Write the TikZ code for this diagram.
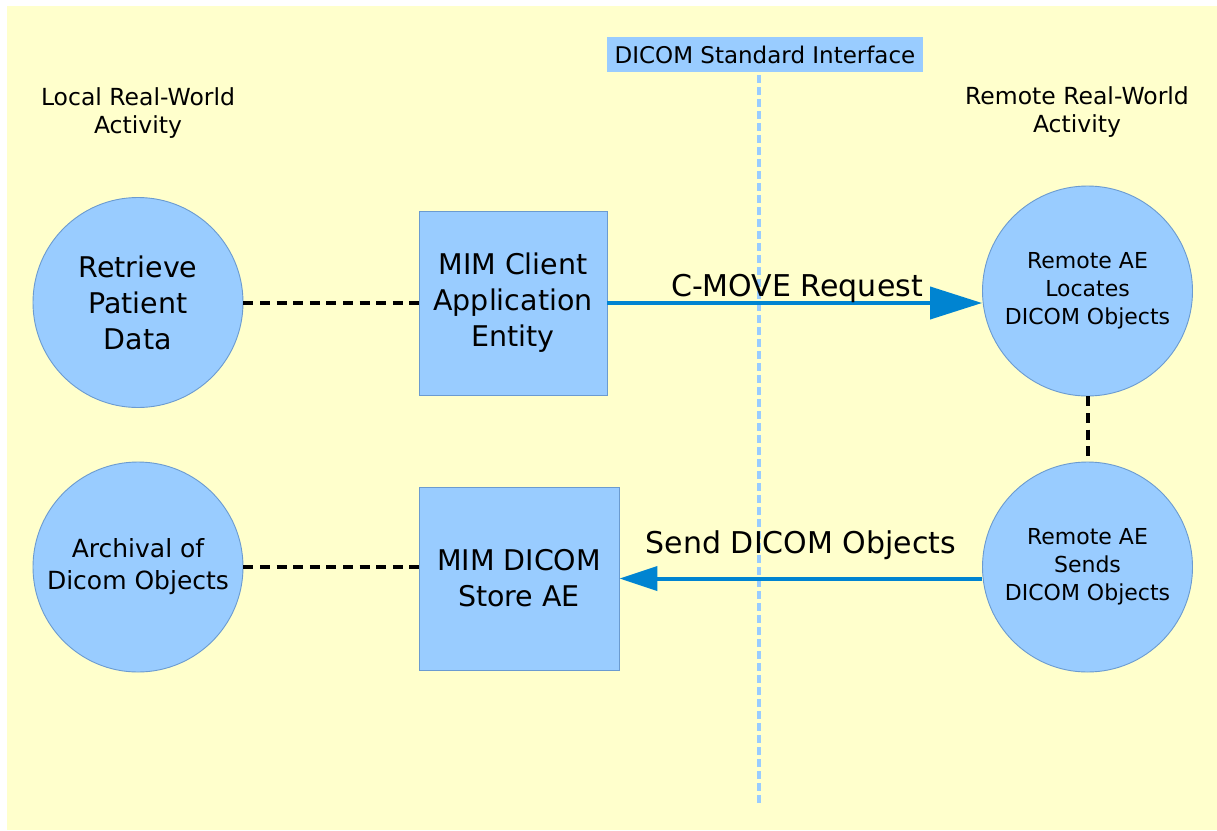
\documentclass[tikz,border=0pt]{standalone}
\usepackage{fontspec}
\setmainfont{DejaVu Sans}
\usetikzlibrary{arrows.meta}
\definecolor{bgyellow}{HTML}{FFFFCC}
\definecolor{shapefill}{HTML}{99CCFF}
\definecolor{shapeline}{HTML}{6B9BD0}
\definecolor{arrowblue}{HTML}{0084D1}
\begin{document}
\begin{tikzpicture}[x=1pt,y=-1pt,
  bigtext/.style={font=\fontsize{28.5}{36}\selectfont},
  smalltext/.style={font=\fontsize{22}{28}\selectfont},
  labeltext/.style={font=\fontsize{23.5}{28}\selectfont},
  msgtext/.style={font=\fontsize{30}{36}\selectfont, anchor=base, inner sep=0pt},
  activity/.style={circle, draw=shapeline, line width=0.9pt, fill=shapefill, minimum size=210pt, inner sep=0pt, align=center},
  aebox/.style={rectangle, draw=shapeline, line width=0.9pt, fill=shapefill, inner sep=0pt, align=center},
  assoc/.style={line width=4pt, black, dash pattern=on 10pt off 6.6pt},
  msg/.style={line width=4pt, arrowblue},
  ifaceline/.style={shapefill, line width=4.5pt, dash pattern=on 8pt off 4pt}]
\useasboundingbox (0,0) rectangle (1217,830);
\fill[bgyellow] (7,6) rectangle (1217,830);

% interface
\node[fill=shapefill, minimum width=316pt, minimum height=35pt, inner sep=0pt, font=\fontsize{23}{28}\selectfont] (iface) at (765,54.5) {DICOM Standard Interface};
\coordinate (ifaceend) at (759,803);
\draw[ifaceline] ([xshift=-6pt,yshift=-3pt]iface.south) -- (ifaceend);

% side labels
\node[labeltext, align=center] (local) at (138,113) {Local Real-World\\Activity};
\node[labeltext, align=center] (remote) at (1077,112) {Remote Real-World\\Activity};

% shapes
\node[activity, bigtext] (retrieve) at (138,302.5) {Retrieve\\Patient\\Data};
\node[activity, font=\fontsize{25}{32}\selectfont] (archival) at (138,567) {Archival of\\Dicom Objects};
\node[aebox, bigtext, minimum width=188pt, minimum height=184pt] (client) at (513,303) {MIM Client\\Application\\Entity};
\node[aebox, bigtext, minimum width=200pt, minimum height=183pt] (store) at (519,578.5) {MIM DICOM\\Store AE};
\node[activity, smalltext] (locates) at (1087.5,291) {Remote AE\\Locates\\DICOM Objects};
\node[activity, smalltext] (sends) at (1087.5,567) {Remote AE\\Sends\\DICOM Objects};

% associations
\draw[assoc] (retrieve.east) -- (retrieve.east -| client.west);
\draw[assoc] (archival.east) -- (archival.east -| store.west);
\draw[assoc] (locates.south) -- (sends.north);

% messages
\draw[msg, -{Triangle[length=52pt,width=32pt]}] (client.east) -- (client.east -| locates.west);
\draw[msg, -{Triangle[length=38pt,width=24pt]}] (sends.west |- store.east) -- (store.east);
\node[msgtext] (cmove) at (797,296) {C-MOVE Request};
\node[msgtext] (send) at (801,553) {Send DICOM Objects};
\end{tikzpicture}
\end{document}
